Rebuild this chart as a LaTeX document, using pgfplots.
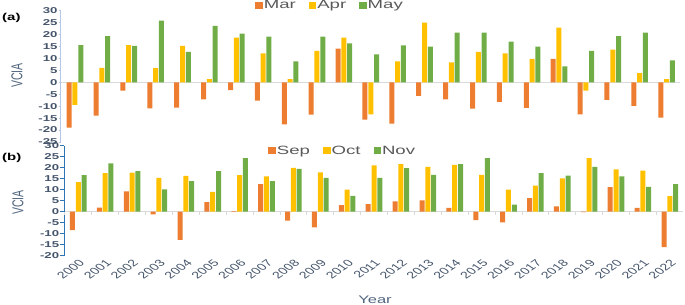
\documentclass[border=0pt]{standalone}
\usepackage{fontspec}
\setmainfont{Liberation Sans}
\usepackage{graphicx}
\usepackage{pgfplots}
\usepackage{pgfplotstable}
\pgfplotsset{compat=1.18}

\definecolor{cMar}{HTML}{ED7D31}
\definecolor{cApr}{HTML}{FFC000}
\definecolor{cMay}{HTML}{70AD47}
\definecolor{tickc}{HTML}{44546A}
\definecolor{labc}{HTML}{50657F}
\definecolor{legc}{HTML}{595959}
\definecolor{axa}{HTML}{B4C7E7}
\definecolor{axb}{HTML}{2E75B6}
\definecolor{zl}{HTML}{D9D9D9}

\newcommand\sx[1]{\scalebox{1.55}[1]{#1}}

\pgfplotstableread{
x mar apr may
0  -19.0  -9.5 15.6
1  -14.0   6.1 19.4
2   -3.5  15.6 15.3
3  -10.9   5.9 25.8
4  -10.6  15.3 12.8
5   -7.1   1.3 23.6
6   -3.3  18.7 20.4
7   -7.7  12.1 19.1
8  -17.6   1.3  8.8
9  -13.5  13.2 19.1
10  14.1  18.7 16.3
11 -15.6 -13.4 11.7
12 -17.3   8.8 15.5
13  -5.7  25.0 14.9
14  -7.1   8.4 20.8
15 -11.0  12.8 20.8
16  -8.2  12.1 17.0
17 -10.7   9.8 14.9
18   9.8  22.9  6.7
19 -13.4  -3.5 13.2
20  -7.4  13.7 19.4
21  -9.9   3.8 20.8
22 -14.8   1.3  9.2
}\dataA

\pgfplotstableread{
x sep oct nov
0   -8.4 13.4 16.6
1    1.8 17.5 22.0
2    9.2 17.8 18.4
3   -1.2 15.4 10.1
4  -12.8 16.3 13.9
5    4.4  9.0 18.4
6    0.3 16.6 24.3
7   12.5 16.1 13.9
8   -4.1 19.9 19.5
9   -7.1 17.9 15.4
10   3.0 10.0  7.2
11   3.5 21.1 15.4
12   4.7 21.6 19.8
13   5.1 20.4 16.7
14   1.7 21.3 21.6
15  -3.8 16.7 24.4
16  -4.8 10.0  3.2
17   6.2 11.9 17.5
18   2.4 15.2 16.4
19  -0.2 24.3 20.4
20  11.2 19.2 16.1
21   1.7 18.7 11.3
22 -16.1  7.1 12.5
}\dataB

\pgfplotsset{
  vcia/.style={
    scale only axis,
    ybar=0.8pt, bar width=5pt,
    axis y line=left, axis x line=middle,
    axis line style={-},
    hide obscured x ticks=false, hide obscured y ticks=false,
    x axis line style={draw=zl, line width=0.8pt},
    yticklabel style={font=\bfseries\fontsize{8.5}{10}\selectfont, text=tickc, inner sep=1pt},
    legend image code/.code={\fill[##1] (0pt,-3.5pt) rectangle (7.5pt,3.5pt);},
    legend style={draw=none, fill=none, legend columns=-1,
      font=\fontsize{12}{14}\selectfont, text=legc,
      nodes={inner sep=1pt},
      /tikz/every even column/.append style={column sep=12pt}},
  }
}

\begin{document}
\begin{tikzpicture}
\path[use as bounding box] (0pt,0pt) rectangle (685pt,-305pt);

% panel (a)
\begin{axis}[vcia,
  at={(60.7pt,-142pt)}, anchor=south west,
  width=619.3pt, height=131.3pt,
  xmin=-0.53, xmax=22.5, ymin=-25, ymax=30,
  y axis line style={draw=axa, line width=0.8pt},
  ytick style={draw=axa, line width=0.6pt}, tick align=outside, major tick length=2pt,
  xtick=\empty,
  ytick={-25,-20,-15,-10,-5,0,5,10,15,20,25,30},
  yticklabels={\sx{-25},\sx{-20},\sx{-15},\sx{-10},\sx{-5},\sx{0},\sx{5},\sx{10},\sx{15},\sx{20},\sx{25},\sx{30}},
  legend style={at={(axis description cs:0.309,1.043)}, anchor=west},
]
\addplot[fill=cMar, draw=none] table[x=x, y=mar] {\dataA};
\addplot[fill=cApr, draw=none] table[x=x, y=apr] {\dataA};
\addplot[fill=cMay, draw=none] table[x=x, y=may] {\dataA};
\addlegendentry{\sx{Mar}}
\addlegendentry{\sx{Apr}}
\addlegendentry{\sx{May}}
\end{axis}

% panel (b)
\begin{axis}[vcia,
  at={(64.3pt,-255.7pt)}, anchor=south west,
  width=618.4pt, height=110pt,
  xmin=-0.52, xmax=22.48, ymin=-20, ymax=30,
  y axis line style={draw=axb, line width=1.2pt},
  ytick style={draw=axb, line width=1pt}, tick align=outside, major tick length=4pt,
  ytick={-20,-15,-10,-5,0,5,10,15,20,25,30},
  yticklabels={\sx{-20},\sx{-15},\sx{-10},\sx{-5},\sx{0},\sx{5},\sx{10},\sx{15},\sx{20},\sx{25},\sx{30}},
  xtick={0,...,22},
  xticklabels={2000,2001,2002,2003,2004,2005,2006,2007,2008,2009,2010,2011,2012,2013,2014,2015,2016,2017,2018,2019,2020,2021,2022},
  xtick style={draw=none},
  xticklabel shift=42pt,
  xticklabel style={font=\fontsize{9.5}{11}\selectfont, text=tickc, xscale=1.5, rotate=45, anchor=north east, inner sep=1pt},
  extra x ticks={-0.5,0.5,...,22.5},
  extra x tick labels={},
  extra x tick style={xtick style={draw=zl, line width=0.8pt}, tick align=outside, major tick length=3pt},
  legend style={at={(axis description cs:0.325,0.9545)}, anchor=west},
]
\addplot[fill=cMar, draw=none] table[x=x, y=sep] {\dataB};
\addplot[fill=cApr, draw=none] table[x=x, y=oct] {\dataB};
\addplot[fill=cMay, draw=none] table[x=x, y=nov] {\dataB};
\addlegendentry{\sx{Sep}}
\addlegendentry{\sx{Oct}}
\addlegendentry{\sx{Nov}}
\end{axis}

\path (2pt,-17.5pt) node[anchor=west, font=\bfseries\fontsize{10}{12}\selectfont, inner sep=0pt] {\scalebox{1.5}[1]{(a)}};
\path (2pt,-157.5pt) node[anchor=west, font=\bfseries\fontsize{10}{12}\selectfont, inner sep=0pt] {\scalebox{1.5}[1]{(b)}};
\path (17pt,-75.5pt) node[xscale=1.5, rotate=90, font=\fontsize{10.5}{12}\selectfont, text=labc, inner sep=0pt] {VCIA};
\path (18pt,-202.5pt) node[xscale=1.5, rotate=90, font=\fontsize{10.5}{12}\selectfont, text=labc, inner sep=0pt] {VCIA};
\path (375pt,-299.5pt) node[font=\fontsize{11}{13}\selectfont, text=labc, inner sep=0pt] {\scalebox{1.5}[1]{Year}};
\end{tikzpicture}
\end{document}
